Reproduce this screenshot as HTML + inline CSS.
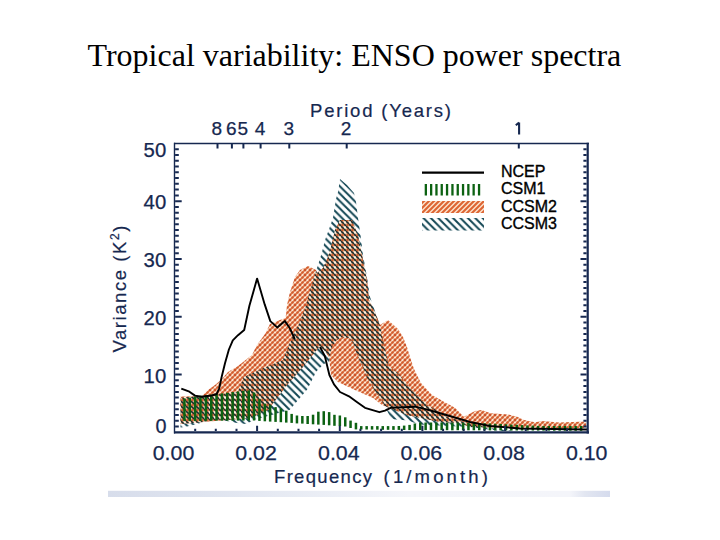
<!DOCTYPE html>
<html><head><meta charset="utf-8"><style>
html,body{margin:0;padding:0;background:#fff;width:720px;height:540px;overflow:hidden}
svg{display:block}
</style></head><body>
<svg width="720" height="540" viewBox="0 0 720 540">
<defs>
<linearGradient id="bar" x1="0" x2="1" y1="0" y2="0">
<stop offset="0" stop-color="#d7ddeb"/><stop offset="0.2" stop-color="#dfe4ef"/><stop offset="0.45" stop-color="#eceff6"/><stop offset="0.6" stop-color="#f5f6fa"/><stop offset="0.92" stop-color="#f4f5fa"/><stop offset="0.95" stop-color="#e2e6f1"/><stop offset="1" stop-color="#d5dbed"/>
</linearGradient>
<pattern id="po" patternUnits="userSpaceOnUse" width="5" height="5">
<rect width="5" height="5" fill="#fde6d0"/>
<path d="M-1,6 L6,-1 M-1,1 L1,-1 M4,6 L6,4" stroke="#e27d4c" stroke-width="1.5"/>
<circle cx="0" cy="0" r="1.45" fill="#cc532a"/><circle cx="5" cy="0" r="1.45" fill="#cc532a"/><circle cx="0" cy="5" r="1.45" fill="#cc532a"/><circle cx="5" cy="5" r="1.45" fill="#cc532a"/><circle cx="2.5" cy="2.5" r="1.3" fill="#d25d30"/>
</pattern>
<pattern id="pol" patternUnits="userSpaceOnUse" width="5" height="5">
<rect width="5" height="5" fill="#fde3cc"/>
<path d="M-1,6 L6,-1 M-1,1 L1,-1 M4,6 L6,4" stroke="#dd6533" stroke-width="2.1"/>
</pattern>
<pattern id="pov" patternUnits="userSpaceOnUse" width="5" height="5">
<rect width="5" height="5" fill="#eebd9a"/>
<path d="M-1,-1 L6,6 M4,-1 L6,1 M-1,4 L1,6" stroke="#1d2d2c" stroke-width="1.7"/>
<circle cx="2.5" cy="0" r="1.25" fill="#cf5f2f"/><circle cx="2.5" cy="5" r="1.25" fill="#cf5f2f"/>
<circle cx="0" cy="2.5" r="1.15" fill="#fdf0e0"/><circle cx="5" cy="2.5" r="1.15" fill="#fdf0e0"/>
</pattern>
<clipPath id="tclip"><polygon points="180.5,398.0 200.0,396.0 222.0,394.0 238.0,392.0 244.0,377.0 264.0,368.0 283.0,360.0 292.0,338.0 295.0,332.0 299.0,324.0 305.0,309.0 311.0,288.0 315.0,274.0 319.0,262.0 322.0,252.0 325.0,240.0 328.0,232.0 333.0,218.0 336.0,199.0 338.0,192.0 340.0,179.0 347.0,185.0 354.0,193.0 356.0,202.0 358.0,218.0 360.5,235.0 363.0,255.0 367.0,277.0 370.0,297.0 377.0,317.0 380.0,326.0 382.0,336.0 386.0,354.0 389.0,366.0 398.0,373.0 412.0,390.0 428.0,405.0 448.0,417.5 467.0,423.0 490.0,428.0 515.0,431.0 500.0,431.0 470.0,427.0 419.0,424.5 408.0,420.5 391.0,419.0 385.0,406.0 368.0,380.0 362.0,365.0 357.0,354.6 353.5,343.5 349.0,338.0 341.5,337.0 336.0,340.7 331.0,349.0 329.0,362.0 323.7,364.0 316.3,371.5 307.4,389.3 289.6,410.0 255.0,419.4 246.0,424.0 237.0,423.0 219.0,419.4 209.0,420.6 197.0,424.0 185.0,427.0 180.5,427.5"/></clipPath>
<pattern id="pt" patternUnits="userSpaceOnUse" x="5.6" y="0" width="7.4" height="7.4">
<path d="M-1,-1 L8.4,8.4 M6.4,-1 L8.4,1 M-1,6.4 L1,8.4" stroke="#124654" stroke-width="2.0"/>
</pattern>
</defs>
<rect width="720" height="540" fill="#fff"/>
<text x="87.5" y="66" font-family="Liberation Serif" font-size="32" fill="#000">Tropical variability: ENSO power spectra</text>
<rect x="108" y="490.8" width="502" height="6.2" fill="url(#bar)"/>

<polygon points="180.5,396.5 202.0,396.0 208.0,390.0 215.0,385.0 222.0,379.0 228.0,372.0 238.0,366.0 252.0,355.0 257.0,345.0 265.0,334.0 270.0,324.0 280.0,320.0 285.6,318.0 287.0,305.0 290.0,292.0 295.0,277.0 300.0,270.0 308.0,266.0 316.0,270.0 317.0,273.0 323.0,268.0 328.0,257.0 332.0,243.0 335.0,230.0 340.0,220.0 352.0,220.0 358.0,235.0 363.0,260.0 367.0,280.0 369.0,300.0 377.0,317.0 380.0,325.0 388.0,320.0 398.0,329.0 403.0,337.0 407.0,347.0 410.0,357.0 414.0,369.0 421.0,383.0 432.0,395.0 448.0,404.0 455.0,407.8 463.9,416.7 475.0,411.1 481.7,410.0 490.6,413.3 508.3,414.4 517.2,416.7 524.0,420.0 535.0,422.2 543.0,421.0 559.0,422.5 586.0,421.5 586.0,428.0 520.0,428.0 470.0,427.0 460.0,423.0 440.0,422.0 407.0,415.0 382.0,405.0 373.0,398.0 355.0,390.0 338.0,382.0 331.0,375.0 329.0,357.0 324.0,350.0 319.0,347.0 316.0,351.0 302.0,368.0 287.0,385.0 268.0,410.0 250.0,418.0 180.5,424.0" fill="url(#po)"/>
<polygon points="180.5,398.0 200.0,396.0 222.0,394.0 238.0,392.0 244.0,377.0 264.0,368.0 283.0,360.0 292.0,338.0 295.0,332.0 299.0,324.0 305.0,309.0 311.0,288.0 315.0,274.0 319.0,262.0 322.0,252.0 325.0,240.0 328.0,232.0 333.0,218.0 336.0,199.0 338.0,192.0 340.0,179.0 347.0,185.0 354.0,193.0 356.0,202.0 358.0,218.0 360.5,235.0 363.0,255.0 367.0,277.0 370.0,297.0 377.0,317.0 380.0,326.0 382.0,336.0 386.0,354.0 389.0,366.0 398.0,373.0 412.0,390.0 428.0,405.0 448.0,417.5 467.0,423.0 490.0,428.0 515.0,431.0 500.0,431.0 470.0,427.0 419.0,424.5 408.0,420.5 391.0,419.0 385.0,406.0 368.0,380.0 362.0,365.0 357.0,354.6 353.5,343.5 349.0,338.0 341.5,337.0 336.0,340.7 331.0,349.0 329.0,362.0 323.7,364.0 316.3,371.5 307.4,389.3 289.6,410.0 255.0,419.4 246.0,424.0 237.0,423.0 219.0,419.4 209.0,420.6 197.0,424.0 185.0,427.0 180.5,427.5" fill="url(#pt)"/>
<polygon points="180.5,396.5 202.0,396.0 208.0,390.0 215.0,385.0 222.0,379.0 228.0,372.0 238.0,366.0 252.0,355.0 257.0,345.0 265.0,334.0 270.0,324.0 280.0,320.0 285.6,318.0 287.0,305.0 290.0,292.0 295.0,277.0 300.0,270.0 308.0,266.0 316.0,270.0 317.0,273.0 323.0,268.0 328.0,257.0 332.0,243.0 335.0,230.0 340.0,220.0 352.0,220.0 358.0,235.0 363.0,260.0 367.0,280.0 369.0,300.0 377.0,317.0 380.0,325.0 388.0,320.0 398.0,329.0 403.0,337.0 407.0,347.0 410.0,357.0 414.0,369.0 421.0,383.0 432.0,395.0 448.0,404.0 455.0,407.8 463.9,416.7 475.0,411.1 481.7,410.0 490.6,413.3 508.3,414.4 517.2,416.7 524.0,420.0 535.0,422.2 543.0,421.0 559.0,422.5 586.0,421.5 586.0,428.0 520.0,428.0 470.0,427.0 460.0,423.0 440.0,422.0 407.0,415.0 382.0,405.0 373.0,398.0 355.0,390.0 338.0,382.0 331.0,375.0 329.0,357.0 324.0,350.0 319.0,347.0 316.0,351.0 302.0,368.0 287.0,385.0 268.0,410.0 250.0,418.0 180.5,424.0" fill="url(#pov)" clip-path="url(#tclip)"/>
<g fill="#0c6212"><rect x="183.2" y="398.5" width="2.5" height="22.4"/><rect x="188.5" y="397.6" width="2.5" height="23.3"/><rect x="193.9" y="396.7" width="2.5" height="24.2"/><rect x="199.2" y="395.8" width="2.5" height="25.1"/><rect x="204.6" y="395.3" width="2.5" height="25.5"/><rect x="210.0" y="394.7" width="2.5" height="26.1"/><rect x="215.3" y="394.0" width="2.5" height="26.7"/><rect x="220.7" y="393.4" width="2.5" height="27.3"/><rect x="226.0" y="392.7" width="2.5" height="28.0"/><rect x="231.4" y="392.1" width="2.5" height="28.6"/><rect x="236.8" y="391.4" width="2.5" height="29.2"/><rect x="242.1" y="390.8" width="2.5" height="29.8"/><rect x="247.5" y="390.4" width="2.5" height="30.1"/><rect x="252.8" y="392.5" width="2.5" height="28.0"/><rect x="258.2" y="399.1" width="2.5" height="21.8"/><rect x="263.6" y="403.7" width="2.5" height="17.6"/><rect x="268.9" y="405.1" width="2.5" height="16.5"/><rect x="274.3" y="407.1" width="2.5" height="14.8"/><rect x="279.6" y="408.6" width="2.5" height="13.6"/><rect x="285.0" y="410.7" width="2.5" height="11.9"/><rect x="290.4" y="413.9" width="2.5" height="9.0"/><rect x="295.7" y="415.5" width="2.5" height="7.9"/><rect x="301.1" y="416.0" width="2.5" height="7.6"/><rect x="306.4" y="416.0" width="2.5" height="8.0"/><rect x="311.8" y="414.7" width="2.5" height="9.6"/><rect x="317.1" y="411.7" width="2.5" height="12.9"/><rect x="322.5" y="411.2" width="2.5" height="13.7"/><rect x="327.9" y="412.1" width="2.5" height="13.2"/><rect x="333.2" y="414.8" width="2.5" height="11.0"/><rect x="338.6" y="415.5" width="2.5" height="10.6"/><rect x="344.0" y="417.3" width="2.5" height="9.2"/><rect x="349.3" y="420.6" width="2.5" height="7.4"/><rect x="354.7" y="422.8" width="2.5" height="6.6"/><rect x="360.0" y="426.1" width="2.5" height="3.4"/><rect x="365.4" y="426.1" width="2.5" height="3.4"/><rect x="370.8" y="426.1" width="2.5" height="3.5"/><rect x="376.1" y="426.1" width="2.5" height="3.6"/><rect x="381.5" y="426.1" width="2.5" height="3.7"/><rect x="386.8" y="426.1" width="2.5" height="3.7"/><rect x="392.2" y="426.1" width="2.5" height="3.8"/><rect x="397.6" y="426.0" width="2.5" height="3.9"/><rect x="402.9" y="425.6" width="2.5" height="4.4"/><rect x="408.3" y="424.9" width="2.5" height="5.2"/><rect x="413.6" y="423.5" width="2.5" height="6.6"/><rect x="419.0" y="422.5" width="2.5" height="7.5"/><rect x="424.4" y="422.5" width="2.5" height="7.6"/><rect x="429.7" y="422.5" width="2.5" height="7.6"/><rect x="435.1" y="422.5" width="2.5" height="7.7"/><rect x="440.4" y="422.5" width="2.5" height="7.7"/><rect x="445.8" y="422.6" width="2.5" height="7.6"/><rect x="451.1" y="422.7" width="2.5" height="7.6"/><rect x="456.5" y="422.7" width="2.5" height="7.5"/><rect x="461.9" y="422.8" width="2.5" height="7.5"/><rect x="467.2" y="422.9" width="2.5" height="7.4"/><rect x="472.6" y="422.9" width="2.5" height="7.4"/><rect x="478.0" y="423.0" width="2.5" height="7.3"/><rect x="483.3" y="423.2" width="2.5" height="7.1"/><rect x="488.7" y="423.5" width="2.5" height="6.9"/><rect x="494.0" y="423.8" width="2.5" height="6.6"/><rect x="499.4" y="424.0" width="2.5" height="6.4"/><rect x="504.8" y="424.3" width="2.5" height="6.2"/><rect x="510.1" y="424.6" width="2.5" height="5.9"/><rect x="515.5" y="424.8" width="2.5" height="5.7"/><rect x="520.8" y="425.1" width="2.5" height="5.4"/><rect x="526.2" y="425.4" width="2.5" height="5.2"/><rect x="531.6" y="425.6" width="2.5" height="4.9"/><rect x="536.9" y="425.9" width="2.5" height="4.7"/><rect x="542.3" y="426.0" width="2.5" height="4.6"/><rect x="547.6" y="426.0" width="2.5" height="4.6"/><rect x="553.0" y="426.0" width="2.5" height="4.7"/><rect x="558.4" y="426.0" width="2.5" height="4.7"/><rect x="563.7" y="426.0" width="2.5" height="4.7"/><rect x="569.1" y="426.0" width="2.5" height="4.7"/><rect x="574.4" y="426.0" width="2.5" height="4.8"/><rect x="579.8" y="426.0" width="2.5" height="4.8"/></g>
<polyline points="181.3,388.7 189.4,391.7 195.0,395.6 201.7,396.7 211.7,395.5 216.7,394.0 219.2,388.3 221.7,376.7 225.0,363.3 228.9,349.5 232.8,340.4 238.0,335.2 244.2,330.0 249.4,305.8 257.1,278.6 264.7,304.4 270.3,321.1 277.2,327.4 284.9,321.1 289.7,328.0 294.8,339.0" fill="none" stroke="#000" stroke-width="1.9" stroke-linejoin="round"/>
<polyline points="320.0,347.0 324.8,356.0 329.4,375.0 334.0,384.4 340.0,392.0 349.0,396.3 357.2,402.2 365.0,407.8 379.4,412.2 385.0,410.6 390.6,407.8 415.0,406.7 425.6,409.2 446.4,415.0 470.0,422.0 490.0,426.0 520.0,428.5 587.0,429.5" fill="none" stroke="#000" stroke-width="1.9" stroke-linejoin="round"/>

<g stroke="#162850" fill="none">
<path d="M174.5,142.8V433.6" stroke-width="1.4"/>
<path d="M587.7,142.8V433.6" stroke-width="2.2"/>
<path d="M174,143.5H589" stroke-width="1.6"/>
<path d="M174,432.4H589" stroke-width="2.4"/>
<path d="M175.1,426.5h3.6999999999999997 M586.6,426.5h-3.1999999999999997 M175.1,420.7h3.6999999999999997 M586.6,420.7h-3.1999999999999997 M175.1,415.0h3.6999999999999997 M586.6,415.0h-3.1999999999999997 M175.1,409.2h3.6999999999999997 M586.6,409.2h-3.1999999999999997 M175.1,403.4h3.6999999999999997 M586.6,403.4h-3.1999999999999997 M175.1,397.6h3.6999999999999997 M586.6,397.6h-3.1999999999999997 M175.1,391.9h3.6999999999999997 M586.6,391.9h-3.1999999999999997 M175.1,386.1h3.6999999999999997 M586.6,386.1h-3.1999999999999997 M175.1,380.3h3.6999999999999997 M586.6,380.3h-3.1999999999999997 M175.1,374.5h6.6000000000000005 M586.6,374.5h-6.1 M175.1,368.7h3.6999999999999997 M586.6,368.7h-3.1999999999999997 M175.1,363.0h3.6999999999999997 M586.6,363.0h-3.1999999999999997 M175.1,357.2h3.6999999999999997 M586.6,357.2h-3.1999999999999997 M175.1,351.4h3.6999999999999997 M586.6,351.4h-3.1999999999999997 M175.1,345.6h3.6999999999999997 M586.6,345.6h-3.1999999999999997 M175.1,339.9h3.6999999999999997 M586.6,339.9h-3.1999999999999997 M175.1,334.1h3.6999999999999997 M586.6,334.1h-3.1999999999999997 M175.1,328.3h3.6999999999999997 M586.6,328.3h-3.1999999999999997 M175.1,322.5h3.6999999999999997 M586.6,322.5h-3.1999999999999997 M175.1,316.7h6.6000000000000005 M586.6,316.7h-6.1 M175.1,311.0h3.6999999999999997 M586.6,311.0h-3.1999999999999997 M175.1,305.2h3.6999999999999997 M586.6,305.2h-3.1999999999999997 M175.1,299.4h3.6999999999999997 M586.6,299.4h-3.1999999999999997 M175.1,293.6h3.6999999999999997 M586.6,293.6h-3.1999999999999997 M175.1,287.9h3.6999999999999997 M586.6,287.9h-3.1999999999999997 M175.1,282.1h3.6999999999999997 M586.6,282.1h-3.1999999999999997 M175.1,276.3h3.6999999999999997 M586.6,276.3h-3.1999999999999997 M175.1,270.5h3.6999999999999997 M586.6,270.5h-3.1999999999999997 M175.1,264.7h3.6999999999999997 M586.6,264.7h-3.1999999999999997 M175.1,259.0h6.6000000000000005 M586.6,259.0h-6.1 M175.1,253.2h3.6999999999999997 M586.6,253.2h-3.1999999999999997 M175.1,247.4h3.6999999999999997 M586.6,247.4h-3.1999999999999997 M175.1,241.6h3.6999999999999997 M586.6,241.6h-3.1999999999999997 M175.1,235.8h3.6999999999999997 M586.6,235.8h-3.1999999999999997 M175.1,230.1h3.6999999999999997 M586.6,230.1h-3.1999999999999997 M175.1,224.3h3.6999999999999997 M586.6,224.3h-3.1999999999999997 M175.1,218.5h3.6999999999999997 M586.6,218.5h-3.1999999999999997 M175.1,212.7h3.6999999999999997 M586.6,212.7h-3.1999999999999997 M175.1,207.0h3.6999999999999997 M586.6,207.0h-3.1999999999999997 M175.1,201.2h6.6000000000000005 M586.6,201.2h-6.1 M175.1,195.4h3.6999999999999997 M586.6,195.4h-3.1999999999999997 M175.1,189.6h3.6999999999999997 M586.6,189.6h-3.1999999999999997 M175.1,183.8h3.6999999999999997 M586.6,183.8h-3.1999999999999997 M175.1,178.1h3.6999999999999997 M586.6,178.1h-3.1999999999999997 M175.1,172.3h3.6999999999999997 M586.6,172.3h-3.1999999999999997 M175.1,166.5h3.6999999999999997 M586.6,166.5h-3.1999999999999997 M175.1,160.7h3.6999999999999997 M586.6,160.7h-3.1999999999999997 M175.1,155.0h3.6999999999999997 M586.6,155.0h-3.1999999999999997 M175.1,149.2h3.6999999999999997 M586.6,149.2h-3.1999999999999997 M195.2,431.1v-2.3 M215.8,431.1v-2.3 M236.5,431.1v-2.3 M257.1,431.1v-5.3 M277.8,431.1v-2.3 M298.5,431.1v-2.3 M319.1,431.1v-2.3 M339.8,431.1v-5.3 M360.4,431.1v-2.3 M381.1,431.1v-2.3 M401.8,431.1v-2.3 M422.4,431.1v-5.3 M443.1,431.1v-2.3 M463.7,431.1v-2.3 M484.4,431.1v-2.3 M505.1,431.1v-5.3 M525.7,431.1v-2.3 M546.4,431.1v-2.3 M567.0,431.1v-2.3 M217.5,144.1v4.5 M231.9,144.1v4.5 M243.4,144.1v4.5 M260.6,144.1v4.5 M289.3,144.1v4.5 M346.7,144.1v4.5 M518.8,144.1v4.5" stroke-width="2"/>
</g>

<g font-family="Liberation Sans" font-size="20" fill="#162850" stroke="#162850" stroke-width="0.25">
<text x="143.6" y="156.9" textLength="22.6" lengthAdjust="spacingAndGlyphs">50</text><text x="143.6" y="209.2" textLength="22.6" lengthAdjust="spacingAndGlyphs">40</text><text x="143.6" y="266.8" textLength="22.6" lengthAdjust="spacingAndGlyphs">30</text><text x="143.6" y="325.2" textLength="22.6" lengthAdjust="spacingAndGlyphs">20</text><text x="143.6" y="382.5" textLength="22.6" lengthAdjust="spacingAndGlyphs">10</text><text x="155.4" y="433.4" textLength="11" lengthAdjust="spacingAndGlyphs">0</text>
<text x="152.7" y="460.0" textLength="41.6" lengthAdjust="spacingAndGlyphs">0.00</text><text x="235.3" y="460.0" textLength="41.6" lengthAdjust="spacingAndGlyphs">0.02</text><text x="318.0" y="460.0" textLength="41.6" lengthAdjust="spacingAndGlyphs">0.04</text><text x="400.6" y="460.0" textLength="41.6" lengthAdjust="spacingAndGlyphs">0.06</text><text x="483.3" y="460.0" textLength="41.6" lengthAdjust="spacingAndGlyphs">0.08</text><text x="565.9" y="460.0" textLength="41.6" lengthAdjust="spacingAndGlyphs">0.10</text>
</g>
<g font-family="Liberation Sans" font-size="19" fill="#162850" stroke="#162850" stroke-width="0.25"><text x="211.6" y="135.2" textLength="10.6" lengthAdjust="spacingAndGlyphs">8</text><text x="226.0" y="135.2" textLength="10.6" lengthAdjust="spacingAndGlyphs">6</text><text x="237.5" y="135.2" textLength="10.6" lengthAdjust="spacingAndGlyphs">5</text><text x="254.7" y="135.2" textLength="10.6" lengthAdjust="spacingAndGlyphs">4</text><text x="283.4" y="135.2" textLength="10.6" lengthAdjust="spacingAndGlyphs">3</text><text x="340.8" y="135.2" textLength="10.6" lengthAdjust="spacingAndGlyphs">2</text><path d="M519.1,122.4V134.6M519.1,122.6L515.8,125.2" stroke="#162850" stroke-width="2.1" fill="none"/></g>
<g font-family="Liberation Sans" font-size="18.5" fill="#162850" stroke="#162850" stroke-width="0.2">
<text x="310" y="117.2" textLength="141" lengthAdjust="spacing">Period (Years)</text>
<text x="274" y="482.8" textLength="98" lengthAdjust="spacing">Frequency</text><text x="383.6" y="482.8" textLength="104.3" lengthAdjust="spacing">(1/month)</text>
<text transform="translate(126.2,352.6) rotate(-90)" x="0" y="0" textLength="127" lengthAdjust="spacing">Variance (K<tspan font-size="12" dy="-7">2</tspan><tspan dy="7">)</tspan></text>
</g>

<line x1="422" y1="172.7" x2="484" y2="172.7" stroke="#000" stroke-width="2.2"/>
<g fill="#0c6212"><rect x="424.7" y="184" width="2.3" height="11.5"/><rect x="430.0" y="184" width="2.3" height="11.5"/><rect x="435.3" y="184" width="2.3" height="11.5"/><rect x="440.6" y="184" width="2.3" height="11.5"/><rect x="445.9" y="184" width="2.3" height="11.5"/><rect x="451.3" y="184" width="2.3" height="11.5"/><rect x="456.6" y="184" width="2.3" height="11.5"/><rect x="461.9" y="184" width="2.3" height="11.5"/><rect x="467.2" y="184" width="2.3" height="11.5"/><rect x="472.5" y="184" width="2.3" height="11.5"/><rect x="477.9" y="184" width="2.3" height="11.5"/></g>
<rect x="422" y="201" width="62" height="12" fill="url(#pol)"/>
<rect x="422" y="218" width="62" height="12.5" fill="url(#pt)"/>
<g font-family="Liberation Sans" font-size="16" fill="#000" stroke="#000" stroke-width="0.35">
<text x="501" y="177.4">NCEP</text>
<text x="501" y="194.3">CSM1</text>
<text x="501" y="212.1">CCSM2</text>
<text x="501" y="229.4">CCSM3</text>
</g>
</svg>
</body></html>
